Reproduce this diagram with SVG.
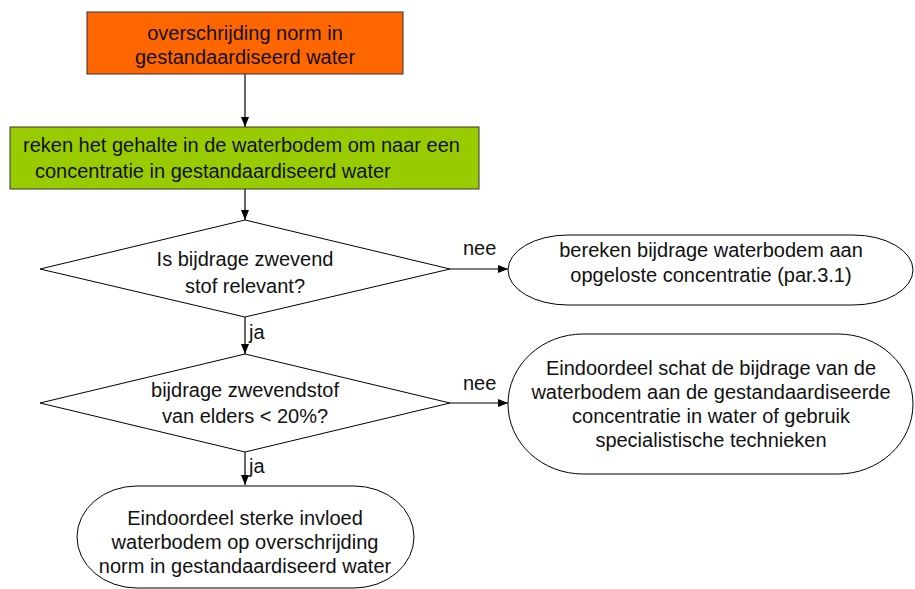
<svg xmlns="http://www.w3.org/2000/svg" width="915" height="589" viewBox="0 0 915 589">
<defs>
<marker id="arr" markerWidth="10" markerHeight="8" refX="10" refY="4" orient="auto" markerUnits="userSpaceOnUse">
<path d="M0,0 L10,4 L0,8 Z" fill="#000"/>
</marker>
<style>
.t{font-family:"Liberation Sans",Arial,sans-serif;font-size:20px;fill:#111;text-anchor:middle}
.l{font-family:"Liberation Sans",Arial,sans-serif;font-size:20px;fill:#111}
.s{stroke:#000;stroke-width:1;fill:#fff}
.c{stroke:#000;stroke-width:1.2;fill:none;marker-end:url(#arr)}
</style>
</defs>
<rect width="915" height="589" fill="#fff"/>
<g id="connectors">
<line class="c" x1="245" y1="74" x2="245" y2="127"/>
<line class="c" x1="245" y1="189" x2="245" y2="220"/>
<line class="c" x1="450" y1="269" x2="508" y2="269"/>
<line class="c" x1="245" y1="317" x2="245" y2="354"/>
<line class="c" x1="450" y1="403" x2="508" y2="403"/>
<line class="c" x1="245" y1="452" x2="245" y2="485"/>
<text class="l" x="463" y="255">nee</text>
<text class="l" x="463" y="390">nee</text>
<text class="l" x="249" y="339">ja</text>
<text class="l" x="249" y="473">ja</text>
</g>
<g id="start">
<rect x="87" y="12" width="316" height="62" fill="#ff6600" stroke="#333" stroke-width="1"/>
<text class="t" x="245" y="40">overschrijding norm in</text>
<text class="t" x="245" y="64">gestandaardiseerd water</text>
</g>
<g id="reken">
<rect x="10" y="127" width="469" height="62" fill="#99cc00" stroke="#333" stroke-width="1"/>
<text class="t" x="23" y="152" style="text-anchor:start">reken het gehalte in de waterbodem om naar een</text>
<text class="t" x="35" y="178" style="text-anchor:start">concentratie in gestandaardiseerd water</text>
</g>
<g id="vraag1">
<polygon class="s" points="245,220 450,269 245,317 40,269"/>
<text class="t" x="245" y="266">Is bijdrage zwevend</text>
<text class="t" x="245" y="293">stof relevant?</text>
</g>
<g id="bereken">
<rect class="s" x="508" y="235" width="405" height="70" rx="60" ry="35"/>
<text class="t" x="711" y="257">bereken bijdrage waterbodem aan</text>
<text class="t" x="711" y="282">opgeloste concentratie (par.3.1)</text>
</g>
<g id="vraag2">
<polygon class="s" points="245,354 450,403 245,452 40,403"/>
<text class="t" x="245" y="397">bijdrage zwevendstof</text>
<text class="t" x="245" y="423">van elders &lt; 20%?</text>
</g>
<g id="eind2">
<rect class="s" x="508" y="334" width="405" height="140" rx="75" ry="70"/>
<text class="t" x="711" y="375">Eindoordeel schat de bijdrage van de</text>
<text class="t" x="711" y="399">waterbodem aan de gestandaardiseerde</text>
<text class="t" x="711" y="423">concentratie in water of gebruik</text>
<text class="t" x="711" y="447">specialistische technieken</text>
</g>
<g id="eind1">
<rect class="s" x="77" y="486" width="337" height="102" rx="60" ry="51"/>
<text class="t" x="245" y="525">Eindoordeel sterke invloed</text>
<text class="t" x="245" y="549">waterbodem op overschrijding</text>
<text class="t" x="245" y="573">norm in gestandaardiseerd water</text>
</g>
</svg>
